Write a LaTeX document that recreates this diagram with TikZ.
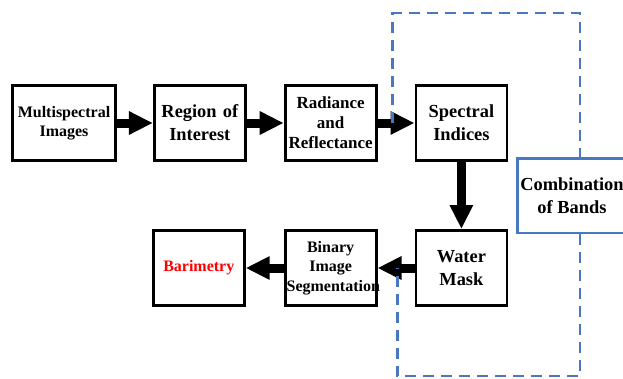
\documentclass[tikz,border=0pt]{standalone}
\usepackage{fontspec}
\setmainfont{Liberation Serif}
\usetikzlibrary{arrows.meta,calc,positioning}

\definecolor{linkblue}{RGB}{72,120,192}

\begin{document}
\begin{tikzpicture}
    [x=1pt, y=1pt,
    block/.style={draw, line width=2.8pt, text width=88pt, inner xsep=1.5pt,
      inner ysep=0pt, minimum height=75.2pt, align=center},
    big/.style={font=\bfseries\fontsize{18.4}{23}\selectfont},
    small/.style={font=\bfseries\fontsize{16}{19.5}\selectfont},
    flow/.style={line width=9pt, -{Triangle[length=24pt,width=22pt]}},
    link/.style={draw=linkblue, line width=2.5pt, dash pattern=on 11pt off 7pt}]

  \useasboundingbox (0,0) rectangle (623,-378);

  \node[block, small, text width=100pt] (mspec) at (64,-123) {Multispectral\\Images};
  \node[block, big, right=36pt of mspec] (roi) {Region of\\Interest};
  \node[block, font=\bfseries\fontsize{17}{20}\selectfont, right=37pt of roi] (rad)
    {Radiance\\and\\Reflectance};
  \node[block, big, right=37pt of rad] (spec) {Spectral\\Indices};

  \node[block, big, below=67pt of spec] (water) {Water\\Mask};
  \node[block, small, left=37pt of water] (bin) {Binary\\Image\\Segmentation};
  \node[block, small, text=red, left=38pt of bin] (bari) {Barimetry};

  \node[draw=linkblue, line width=2.5pt, big, align=center, minimum width=109.5pt,
    minimum height=74.5pt, inner sep=0pt] (combo) at (572,-195.5) {Combination\\of Bands};

  \draw[flow] (mspec) -- (roi);
  \draw[flow] (roi) -- (rad);
  \draw[flow] (rad) -- (spec);
  \draw[flow] (spec) -- (water);
  \draw[flow] (water) -- (bin);
  \draw[flow] (bin) -- (bari);

  % dashed loop through the band combination
  \coordinate (upA) at ($(rad.east)!0.41!(spec.west)$);
  \coordinate (upB) at ($(bin.east)!0.54!(water.west)$);
  \coordinate (topR) at (580,-13);
  \coordinate (botR) at (580,-376);
  \draw[link] (upA) |- (topR) -- (topR |- combo.north);
  \draw[link] (combo.south -| botR) -- (botR) -| (upB);

\end{tikzpicture}
\end{document}
